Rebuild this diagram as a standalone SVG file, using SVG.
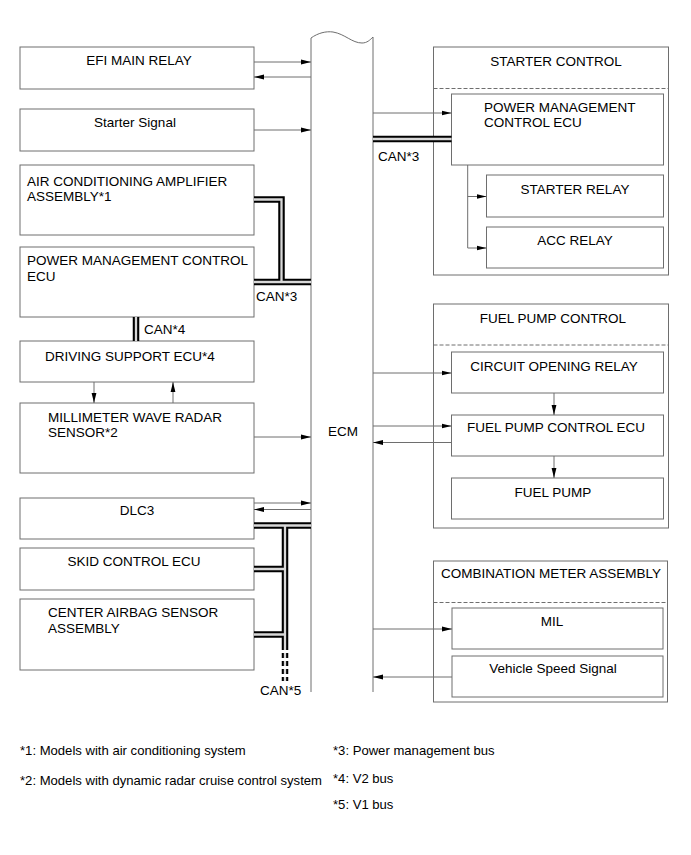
<svg xmlns="http://www.w3.org/2000/svg" width="691" height="855" viewBox="0 0 691 855">
<defs>
<style>
text{font-family:"Liberation Sans",Arial,sans-serif;font-size:13.5px;fill:#000}
.c{text-anchor:middle}
.box{fill:#fff;stroke:#6e6e6e;stroke-width:1}
.grp{fill:#fff;stroke:#6e6e6e;stroke-width:1}
.dash{stroke:#6e6e6e;stroke-width:1;stroke-dasharray:4 2;fill:none}
.ln{stroke:#6e6e6e;stroke-width:1;fill:none}
.ar{stroke:#6e6e6e;stroke-width:1;fill:none;marker-end:url(#ah)}
.co{stroke:#000;stroke-width:6.5;fill:none;stroke-linejoin:miter}
.ci{stroke:#d8d8d8;stroke-width:2.3;fill:none;stroke-linejoin:miter}
.fn{font-size:13.1px}
</style>
<marker id="ah" markerWidth="10" markerHeight="6" refX="10" refY="3" orient="auto" markerUnits="userSpaceOnUse">
<path d="M0,0.6 L10,3 L0,5.4 Z" fill="#000"/>
</marker>
</defs>
<rect width="691" height="855" fill="#fff"/>

<g id="ecm">
<path class="ln" d="M311,692 V38 C318,33 326,31 333,32 C345,34 352,43 362,43 C367,43 370,40 373,37 V692"/>
<text class="c" x="343" y="436">ECM</text>
</g>

<g id="efi-main-relay"><rect class="box" x="20" y="47" width="234" height="42"/><text class="c" x="139" y="65">EFI MAIN RELAY</text></g>
<g id="starter-signal"><rect class="box" x="20" y="109" width="234" height="42"/><text class="c" x="135" y="127">Starter Signal</text></g>
<g id="ac-amplifier"><rect class="box" x="20" y="165" width="234" height="70"/><text x="27" y="186">AIR CONDITIONING AMPLIFIER</text><text x="27" y="201">ASSEMBLY*1</text></g>
<g id="pm-control-ecu-left"><rect class="box" x="20" y="247" width="234" height="70"/><text x="27" y="265">POWER MANAGEMENT CONTROL</text><text x="27" y="281">ECU</text></g>
<g id="driving-support-ecu"><rect class="box" x="20" y="341" width="234" height="41"/><text x="45" y="361">DRIVING SUPPORT ECU*4</text></g>
<g id="mmw-radar"><rect class="box" x="20" y="403" width="234" height="70"/><text x="48" y="422">MILLIMETER WAVE RADAR</text><text x="48" y="437">SENSOR*2</text></g>
<g id="dlc3"><rect class="box" x="20" y="498" width="234" height="41"/><text class="c" x="137" y="515">DLC3</text></g>
<g id="skid-control-ecu"><rect class="box" x="20" y="548" width="234" height="42"/><text class="c" x="134" y="566">SKID CONTROL ECU</text></g>
<g id="center-airbag"><rect class="box" x="20" y="599" width="234" height="71"/><text x="48" y="617">CENTER AIRBAG SENSOR</text><text x="48" y="633">ASSEMBLY</text></g>

<g id="starter-control">
<rect class="grp" x="433.5" y="47" width="235" height="228"/>
<line class="dash" x1="433.5" y1="88.5" x2="668.5" y2="88.5"/>
<text class="c" x="556" y="66">STARTER CONTROL</text>
<g id="pm-control-ecu-right"><rect class="box" x="451.5" y="94" width="212" height="71"/><text x="484" y="112">POWER MANAGEMENT</text><text x="484" y="127">CONTROL ECU</text></g>
<g id="starter-relay"><rect class="box" x="486.5" y="175" width="177" height="42"/><text class="c" x="575" y="194">STARTER RELAY</text></g>
<g id="acc-relay"><rect class="box" x="486.5" y="227" width="177" height="41"/><text class="c" x="575" y="245">ACC RELAY</text></g>
</g>

<g id="fuel-pump-control">
<rect class="grp" x="433.5" y="304" width="235" height="224"/>
<line class="dash" x1="433.5" y1="345" x2="668.5" y2="345"/>
<text class="c" x="553" y="323">FUEL PUMP CONTROL</text>
<g id="circuit-opening-relay"><rect class="box" x="451.5" y="352" width="212" height="41"/><text class="c" x="554" y="371">CIRCUIT OPENING RELAY</text></g>
<g id="fuel-pump-control-ecu"><rect class="box" x="451.5" y="415" width="212" height="41"/><text class="c" x="556" y="432">FUEL PUMP CONTROL ECU</text></g>
<g id="fuel-pump"><rect class="box" x="451.5" y="478" width="212" height="41"/><text class="c" x="553" y="497">FUEL PUMP</text></g>
</g>

<g id="combination-meter">
<rect class="grp" x="433.5" y="561" width="234" height="141"/>
<line class="dash" x1="433.5" y1="602.5" x2="667.5" y2="602.5"/>
<text class="c" x="551" y="578">COMBINATION METER ASSEMBLY</text>
<g id="mil"><rect class="box" x="452" y="608" width="211" height="41"/><text class="c" x="552" y="626">MIL</text></g>
<g id="vehicle-speed-signal"><rect class="box" x="452" y="656" width="211" height="41"/><text class="c" x="553" y="673">Vehicle Speed Signal</text></g>
</g>

<g id="connectors">
<path class="ar" d="M254,62 H311"/>
<path class="ar" d="M311,77 H254"/>
<path class="ar" d="M254,130 H311"/>
<path class="ar" d="M94,382 V403"/>
<path class="ar" d="M173,403 V382"/>
<path class="ar" d="M254,437 H311"/>
<path class="ar" d="M254,503 H311"/>
<path class="ar" d="M311,509.5 H254"/>
<path class="ar" d="M373,113 H451.5"/>
<path class="ln" d="M467.7,165 V248"/>
<path class="ar" d="M467.7,196.5 H486.5"/>
<path class="ar" d="M467.7,248 H486.5"/>
<path class="ar" d="M373,373 H451.5"/>
<path class="ar" d="M554,393 V415"/>
<path class="ar" d="M373,426 H451.5"/>
<path class="ar" d="M451.5,442.5 H373"/>
<path class="ar" d="M554,456 V478"/>
<path class="ar" d="M373,629 H452"/>
<path class="ar" d="M452,677 H373"/>
<g id="can-buses">
<path class="co" d="M254,199.5 H281.5 V282 M254,282 H311 M136,317 V341 M373,139 H451.5 M254,525.5 H311 M285,525.5 V650 M254,569 H285 M254,634.5 H285"/>
<path class="co" stroke-dasharray="5 3" d="M285,653 V681"/>
<path class="ci" d="M254,199.5 H281.5 V282 M254,282 H311 M136,317 V341 M373,139 H451.5 M254,525.5 H311 M285,525.5 V650 M254,569 H285 M254,634.5 H285"/>
<path class="ci" stroke-dasharray="5 3" d="M285,653 V681"/>
</g>
<text x="256" y="301">CAN*3</text>
<text x="144" y="334">CAN*4</text>
<text x="378" y="161">CAN*3</text>
<text x="260" y="695">CAN*5</text>
</g>

<g id="footnotes">
<text class="fn" x="20" y="755">*1: Models with air conditioning system</text>
<text class="fn" x="20" y="785">*2: Models with dynamic radar cruise control system</text>
<text class="fn" x="333" y="755">*3: Power management bus</text>
<text class="fn" x="333" y="783">*4: V2 bus</text>
<text class="fn" x="333" y="809">*5: V1 bus</text>
</g>
</svg>
